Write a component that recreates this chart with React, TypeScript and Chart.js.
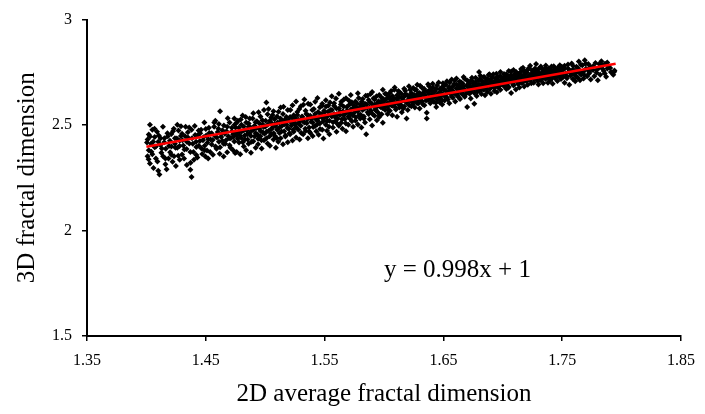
import React, { useEffect, useRef } from "react";
import { Chart, registerables } from "chart.js";
Chart.register(...registerables);

const xTicks = [1.35, 1.45, 1.55, 1.65, 1.75, 1.85];
const yTicks = [1.5, 2, 2.5, 3];
const trendX = [1.4, 1.795];
const trendY = [2.397, 2.791];
const equationText = "y = 0.998x + 1";
const equationAt = [1.6, 1.81];

const seg1 = [[1.401,2.352],[1.401,2.431],[1.402,2.455],[1.402,2.381],[1.403,2.502],[1.403,2.318],[1.404,2.412],[1.405,2.362],[1.405,2.478],[1.406,2.296],[1.407,2.443],[1.407,2.395],[1.408,2.341],[1.409,2.468],[1.410,2.421],[1.410,2.283],[1.411,2.266],[1.412,2.437],[1.413,2.389],[1.414,2.352],[1.415,2.418],[1.416,2.314],[1.416,2.342],[1.417,2.291],[1.418,2.447],[1.419,2.401],[1.420,2.371],[1.421,2.458],[1.421,2.359],[1.422,2.326],[1.423,2.482],[1.424,2.412],[1.424,2.437]];
const seg2 = [[1.426,2.501],[1.426,2.392],[1.427,2.474],[1.428,2.335],[1.428,2.426],[1.429,2.448],[1.430,2.361],[1.430,2.459],[1.431,2.403],[1.432,2.384],[1.433,2.492],[1.434,2.311],[1.434,2.421],[1.435,2.441],[1.436,2.489],[1.437,2.372],[1.437,2.288],[1.438,2.254],[1.438,2.478],[1.439,2.412],[1.440,2.336],[1.441,2.453],[1.442,2.358],[1.442,2.396],[1.443,2.452],[1.444,2.474],[1.445,2.425],[1.446,2.478],[1.447,2.363],[1.448,2.442],[1.449,2.402],[1.449,2.381]];
const seg3 = [[1.450,2.481],[1.451,2.379],[1.452,2.433],[1.452,2.341],[1.453,2.462],[1.454,2.431],[1.455,2.408],[1.456,2.359],[1.457,2.492],[1.458,2.521],[1.458,2.446],[1.459,2.388],[1.460,2.467],[1.461,2.505],[1.461,2.421],[1.462,2.566],[1.462,2.395],[1.463,2.443],[1.464,2.476],[1.465,2.351],[1.465,2.412],[1.466,2.459],[1.467,2.428],[1.468,2.492],[1.468,2.371],[1.469,2.447],[1.470,2.512],[1.470,2.404],[1.471,2.437],[1.472,2.469],[1.473,2.381],[1.473,2.455],[1.474,2.531],[1.474,2.422]];
const seg4 = [[1.475,2.488],[1.476,2.372],[1.476,2.451],[1.477,2.521],[1.478,2.417],[1.478,2.468],[1.479,2.362],[1.480,2.439],[1.480,2.502],[1.481,2.545],[1.482,2.398],[1.482,2.475],[1.483,2.431],[1.484,2.512],[1.484,2.381],[1.485,2.456],[1.486,2.492],[1.486,2.411],[1.487,2.531],[1.488,2.369],[1.488,2.448],[1.489,2.476],[1.490,2.423],[1.490,2.556],[1.491,2.497],[1.492,2.392],[1.492,2.461],[1.493,2.518],[1.494,2.435],[1.494,2.409],[1.495,2.482],[1.496,2.541],[1.496,2.447],[1.497,2.389],[1.498,2.503],[1.498,2.466],[1.499,2.428],[1.499,2.571]];
const seg5 = [[1.500,2.492],[1.501,2.438],[1.501,2.607],[1.502,2.551],[1.502,2.413],[1.503,2.473],[1.504,2.521],[1.504,2.402],[1.505,2.459],[1.505,2.536],[1.506,2.487],[1.507,2.431],[1.507,2.566],[1.508,2.505],[1.508,2.449],[1.509,2.392],[1.510,2.478],[1.510,2.541],[1.511,2.421],[1.512,2.512],[1.512,2.462],[1.513,2.583],[1.513,2.437],[1.514,2.495],[1.515,2.409],[1.515,2.553],[1.516,2.471],[1.517,2.528],[1.517,2.446],[1.518,2.501],[1.519,2.418],[1.519,2.572],[1.520,2.482],[1.521,2.538],[1.521,2.456],[1.522,2.511],[1.523,2.427],[1.523,2.594],[1.524,2.468],[1.524,2.547]];
const seg6 = [[1.525,2.501],[1.526,2.441],[1.526,2.612],[1.527,2.562],[1.528,2.478],[1.528,2.525],[1.529,2.431],[1.530,2.589],[1.530,2.497],[1.531,2.541],[1.532,2.456],[1.532,2.518],[1.533,2.621],[1.534,2.472],[1.534,2.568],[1.535,2.509],[1.536,2.437],[1.536,2.546],[1.537,2.489],[1.538,2.597],[1.538,2.462],[1.539,2.531],[1.540,2.512],[1.540,2.448],[1.541,2.576],[1.542,2.495],[1.542,2.553],[1.543,2.471],[1.544,2.628],[1.544,2.522],[1.545,2.454],[1.546,2.584],[1.546,2.507],[1.547,2.541],[1.548,2.478],[1.548,2.601],[1.549,2.529],[1.549,2.436]];
const seg7 = [[1.550,2.561],[1.551,2.502],[1.551,2.618],[1.552,2.473],[1.552,2.539],[1.553,2.591],[1.554,2.521],[1.554,2.456],[1.555,2.572],[1.556,2.541],[1.556,2.637],[1.557,2.489],[1.558,2.553],[1.558,2.604],[1.559,2.517],[1.560,2.468],[1.560,2.579],[1.561,2.531],[1.562,2.648],[1.562,2.497],[1.563,2.562],[1.564,2.611],[1.564,2.511],[1.565,2.482],[1.566,2.546],[1.566,2.588],[1.567,2.528],[1.568,2.627],[1.568,2.471],[1.569,2.569],[1.570,2.539],[1.570,2.501],[1.571,2.597],[1.572,2.553],[1.572,2.643],[1.573,2.518],[1.574,2.581],[1.574,2.492]];
const seg8 = [[1.575,2.559],[1.576,2.612],[1.576,2.521],[1.577,2.584],[1.578,2.503],[1.578,2.651],[1.579,2.547],[1.580,2.596],[1.580,2.531],[1.581,2.488],[1.582,2.572],[1.582,2.623],[1.583,2.541],[1.584,2.601],[1.584,2.512],[1.585,2.457],[1.586,2.582],[1.586,2.639],[1.587,2.553],[1.588,2.527],[1.588,2.609],[1.589,2.568],[1.590,2.498],[1.590,2.657],[1.591,2.589],[1.592,2.544],[1.592,2.621],[1.593,2.571],[1.594,2.523],[1.594,2.602],[1.595,2.559],[1.596,2.643],[1.596,2.538],[1.597,2.586],[1.598,2.614],[1.598,2.551],[1.599,2.511],[1.599,2.667]];
const seg9 = [[1.600,2.601],[1.601,2.571],[1.601,2.648],[1.602,2.623],[1.603,2.586],[1.603,2.552],[1.604,2.634],[1.605,2.609],[1.605,2.568],[1.606,2.661],[1.607,2.591],[1.607,2.546],[1.608,2.627],[1.609,2.603],[1.609,2.678],[1.610,2.574],[1.611,2.539],[1.611,2.641],[1.612,2.612],[1.613,2.583],[1.613,2.656],[1.614,2.596],[1.615,2.561],[1.615,2.631],[1.616,2.618],[1.617,2.672],[1.617,2.588],[1.618,2.647],[1.619,2.531],[1.619,2.606],[1.620,2.572],[1.621,2.638],[1.621,2.684],[1.622,2.615],[1.623,2.589],[1.623,2.652],[1.624,2.627],[1.624,2.598]];
const seg10 = [[1.625,2.611],[1.626,2.668],[1.626,2.583],[1.627,2.639],[1.628,2.621],[1.628,2.691],[1.629,2.603],[1.630,2.652],[1.630,2.578],[1.631,2.629],[1.632,2.677],[1.632,2.612],[1.633,2.646],[1.634,2.594],[1.634,2.661],[1.635,2.632],[1.636,2.558],[1.636,2.531],[1.637,2.619],[1.638,2.684],[1.638,2.647],[1.639,2.603],[1.640,2.662],[1.640,2.627],[1.641,2.696],[1.642,2.611],[1.642,2.655],[1.643,2.638],[1.644,2.586],[1.644,2.671],[1.645,2.622],[1.646,2.702],[1.646,2.651],[1.647,2.607],[1.648,2.666],[1.648,2.637],[1.649,2.681],[1.649,2.598]];
const seg11 = [[1.650,2.642],[1.651,2.689],[1.651,2.617],[1.652,2.664],[1.653,2.708],[1.653,2.631],[1.654,2.655],[1.655,2.681],[1.655,2.604],[1.656,2.647],[1.657,2.716],[1.657,2.668],[1.658,2.629],[1.659,2.693],[1.659,2.652],[1.660,2.612],[1.661,2.674],[1.661,2.721],[1.662,2.641],[1.663,2.687],[1.663,2.659],[1.664,2.623],[1.665,2.702],[1.665,2.671],[1.666,2.646],[1.667,2.728],[1.667,2.684],[1.668,2.634],[1.669,2.662],[1.670,2.586],[1.670,2.711],[1.671,2.679],[1.672,2.648],[1.672,2.696],[1.673,2.626],[1.674,2.668],[1.674,2.724],[1.675,2.687]];
const seg12 = [[1.676,2.601],[1.676,2.652],[1.677,2.704],[1.678,2.673],[1.678,2.638],[1.679,2.691],[1.680,2.752],[1.680,2.662],[1.681,2.718],[1.682,2.681],[1.682,2.647],[1.683,2.699],[1.684,2.728],[1.684,2.668],[1.685,2.641],[1.686,2.709],[1.686,2.686],[1.687,2.657],[1.688,2.737],[1.688,2.694],[1.689,2.671],[1.690,2.719],[1.690,2.648],[1.691,2.702],[1.692,2.683],[1.692,2.741],[1.693,2.661],[1.694,2.711],[1.694,2.692],[1.695,2.655],[1.696,2.728],[1.696,2.679],[1.697,2.703],[1.698,2.751],[1.698,2.668],[1.699,2.694]];
const seg13 = [[1.700,2.718],[1.701,2.684],[1.701,2.742],[1.702,2.705],[1.703,2.671],[1.703,2.728],[1.704,2.697],[1.705,2.756],[1.705,2.681],[1.706,2.719],[1.707,2.652],[1.707,2.737],[1.708,2.702],[1.709,2.688],[1.709,2.761],[1.710,2.724],[1.711,2.669],[1.711,2.711],[1.712,2.745],[1.713,2.693],[1.713,2.729],[1.714,2.678],[1.715,2.752],[1.715,2.714],[1.716,2.699],[1.717,2.772],[1.717,2.735],[1.718,2.683],[1.719,2.721],[1.719,2.748],[1.720,2.706],[1.721,2.691],[1.721,2.764],[1.722,2.731],[1.723,2.714],[1.723,2.781],[1.724,2.698],[1.724,2.742]];
const seg14 = [[1.725,2.727],[1.726,2.758],[1.726,2.701],[1.727,2.744],[1.728,2.789],[1.728,2.718],[1.729,2.735],[1.730,2.692],[1.730,2.766],[1.731,2.741],[1.732,2.712],[1.732,2.778],[1.733,2.729],[1.734,2.755],[1.734,2.698],[1.735,2.742],[1.736,2.718],[1.736,2.771],[1.737,2.736],[1.738,2.701],[1.738,2.759],[1.739,2.727],[1.740,2.747],[1.740,2.712],[1.741,2.778],[1.742,2.735],[1.742,2.696],[1.743,2.753],[1.744,2.722],[1.744,2.768],[1.745,2.741],[1.746,2.709],[1.746,2.757],[1.747,2.731],[1.748,2.784],[1.749,2.718],[1.749,2.748]];
const seg15 = [[1.750,2.762],[1.751,2.729],[1.752,2.701],[1.752,2.781],[1.753,2.744],[1.754,2.722],[1.755,2.768],[1.756,2.691],[1.756,2.751],[1.757,2.734],[1.758,2.792],[1.759,2.718],[1.759,2.763],[1.760,2.741],[1.761,2.708],[1.762,2.776],[1.762,2.749],[1.763,2.726],[1.764,2.801],[1.765,2.758],[1.765,2.712],[1.766,2.739],[1.767,2.783],[1.768,2.754],[1.768,2.721],[1.769,2.807],[1.770,2.767],[1.771,2.732],[1.772,2.789],[1.773,2.752],[1.774,2.716],[1.774,2.776]];
const seg16 = [[1.776,2.761],[1.777,2.731],[1.778,2.794],[1.779,2.748],[1.780,2.712],[1.781,2.772],[1.782,2.738],[1.783,2.803],[1.784,2.784],[1.785,2.756],[1.786,2.791],[1.787,2.729],[1.788,2.768],[1.789,2.781],[1.791,2.752],[1.792,2.748],[1.793,2.739],[1.794,2.759]];

const extra1 = [[1.4005,2.417],[1.4018,2.338],[1.4031,2.446],[1.4042,2.373],[1.4057,2.421],[1.4068,2.482],[1.4079,2.398],[1.4093,2.327],[1.4104,2.451],[1.4118,2.406],[1.4126,2.369],[1.4139,2.492],[1.4152,2.437],[1.4163,2.388],[1.4177,2.461],[1.4186,2.342],[1.4198,2.426],[1.4211,2.398],[1.4224,2.471],[1.4233,2.352],[1.4245,2.393],[1.4248,2.306]];
const extra2 = [[1.4256,2.436],[1.4268,2.355],[1.4279,2.401],[1.4291,2.494],[1.4303,2.428],[1.4317,2.341],[1.4326,2.447],[1.4338,2.386],[1.4349,2.466],[1.4361,2.413],[1.4372,2.321],[1.4384,2.437],[1.4396,2.372],[1.4407,2.496],[1.4418,2.421],[1.4429,2.346],[1.4441,2.402],[1.4453,2.461],[1.4464,2.389],[1.4476,2.428],[1.4488,2.512],[1.4497,2.351]];
const extra3 = [[1.4503,2.451],[1.4514,2.416],[1.4526,2.487],[1.4537,2.372],[1.4549,2.461],[1.4558,2.429],[1.4571,2.512],[1.4582,2.398],[1.4594,2.441],[1.4606,2.483],[1.4617,2.364],[1.4628,2.457],[1.4639,2.426],[1.4652,2.498],[1.4663,2.411],[1.4674,2.471],[1.4685,2.532],[1.4697,2.438],[1.4708,2.393],[1.4719,2.487],[1.4731,2.443],[1.4742,2.501],[1.4747,2.368]];
const extra4 = [[1.4753,2.461],[1.4761,2.512],[1.4769,2.435],[1.4778,2.487],[1.4786,2.452],[1.4794,2.526],[1.4802,2.469],[1.4811,2.418],[1.4819,2.493],[1.4827,2.451],[1.4836,2.538],[1.4844,2.474],[1.4852,2.431],[1.4861,2.507],[1.4869,2.462],[1.4877,2.489],[1.4886,2.421],[1.4894,2.531],[1.4902,2.478],[1.4911,2.447],[1.4919,2.513],[1.4927,2.486],[1.4936,2.455],[1.4944,2.561],[1.4952,2.507],[1.4961,2.472],[1.4969,2.428],[1.4977,2.523],[1.4986,2.491],[1.4994,2.459]];
const extra5 = [[1.5004,2.521],[1.5012,2.468],[1.5021,2.501],[1.5029,2.576],[1.5037,2.447],[1.5046,2.513],[1.5054,2.482],[1.5062,2.548],[1.5071,2.461],[1.5079,2.527],[1.5087,2.496],[1.5096,2.439],[1.5104,2.512],[1.5112,2.563],[1.5121,2.488],[1.5129,2.531],[1.5137,2.469],[1.5146,2.519],[1.5154,2.587],[1.5162,2.504],[1.5171,2.451],[1.5179,2.538],[1.5187,2.486],[1.5196,2.522],[1.5204,2.461],[1.5212,2.571],[1.5221,2.498],[1.5229,2.534],[1.5237,2.478],[1.5246,2.513]];
const extra6 = [[1.5254,2.531],[1.5262,2.489],[1.5271,2.548],[1.5279,2.507],[1.5287,2.576],[1.5296,2.521],[1.5304,2.462],[1.5312,2.538],[1.5321,2.596],[1.5329,2.512],[1.5337,2.483],[1.5346,2.553],[1.5354,2.527],[1.5362,2.601],[1.5371,2.469],[1.5379,2.544],[1.5387,2.516],[1.5396,2.571],[1.5404,2.491],[1.5412,2.537],[1.5421,2.611],[1.5429,2.526],[1.5437,2.503],[1.5446,2.562],[1.5454,2.538],[1.5462,2.481],[1.5471,2.553],[1.5479,2.591],[1.5487,2.517],[1.5496,2.568]];
const extra7 = [[1.5504,2.541],[1.5512,2.588],[1.5521,2.519],[1.5529,2.563],[1.5537,2.492],[1.5546,2.607],[1.5554,2.546],[1.5562,2.571],[1.5571,2.513],[1.5579,2.592],[1.5587,2.538],[1.5596,2.626],[1.5604,2.551],[1.5612,2.504],[1.5621,2.579],[1.5629,2.548],[1.5637,2.598],[1.5646,2.527],[1.5654,2.566],[1.5662,2.621],[1.5671,2.553],[1.5679,2.508],[1.5687,2.586],[1.5696,2.561],[1.5704,2.617],[1.5712,2.531],[1.5721,2.574],[1.5729,2.608],[1.5737,2.547],[1.5746,2.593]];
const extra8 = [[1.5754,2.576],[1.5762,2.537],[1.5771,2.603],[1.5779,2.564],[1.5787,2.628],[1.5796,2.581],[1.5804,2.549],[1.5812,2.611],[1.5821,2.592],[1.5829,2.531],[1.5837,2.578],[1.5846,2.639],[1.5854,2.597],[1.5862,2.561],[1.5871,2.619],[1.5879,2.583],[1.5887,2.647],[1.5896,2.602],[1.5904,2.552],[1.5912,2.627],[1.5921,2.596],[1.5929,2.571],[1.5937,2.637],[1.5946,2.589],[1.5954,2.613],[1.5962,2.548],[1.5971,2.606],[1.5979,2.631],[1.5987,2.581],[1.5996,2.622]];
const extra9 = [[1.6004,2.617],[1.6012,2.589],[1.6021,2.646],[1.6029,2.602],[1.6037,2.571],[1.6046,2.651],[1.6054,2.621],[1.6062,2.594],[1.6071,2.638],[1.6079,2.613],[1.6087,2.667],[1.6096,2.583],[1.6104,2.626],[1.6112,2.604],[1.6121,2.661],[1.6129,2.632],[1.6137,2.591],[1.6146,2.648],[1.6154,2.617],[1.6162,2.578],[1.6171,2.636],[1.6179,2.663],[1.6187,2.609],[1.6196,2.641],[1.6204,2.621],[1.6212,2.594],[1.6221,2.667],[1.6229,2.638],[1.6237,2.612],[1.6246,2.676]];
const extra10 = [[1.6254,2.642],[1.6262,2.621],[1.6271,2.667],[1.6279,2.604],[1.6287,2.651],[1.6296,2.634],[1.6304,2.686],[1.6312,2.618],[1.6321,2.647],[1.6329,2.598],[1.6337,2.672],[1.6346,2.641],[1.6354,2.616],[1.6362,2.659],[1.6371,2.693],[1.6379,2.631],[1.6387,2.668],[1.6396,2.619],[1.6404,2.647],[1.6412,2.678],[1.6421,2.632],[1.6429,2.661],[1.6437,2.606],[1.6446,2.688],[1.6454,2.646],[1.6462,2.627],[1.6471,2.672],[1.6479,2.653],[1.6487,2.619],[1.6496,2.698]];
const extra11 = [[1.6504,2.667],[1.6512,2.638],[1.6521,2.691],[1.6529,2.652],[1.6537,2.621],[1.6546,2.676],[1.6554,2.702],[1.6562,2.661],[1.6571,2.634],[1.6579,2.683],[1.6587,2.657],[1.6596,2.711],[1.6604,2.646],[1.6612,2.692],[1.6621,2.668],[1.6629,2.631],[1.6637,2.706],[1.6646,2.681],[1.6654,2.653],[1.6662,2.697],[1.6671,2.672],[1.6679,2.719],[1.6687,2.646],[1.6696,2.688],[1.6704,2.661],[1.6712,2.706],[1.6721,2.684],[1.6729,2.658],[1.6737,2.712],[1.6746,2.679]];
const extra12 = [[1.6754,2.698],[1.6762,2.671],[1.6771,2.724],[1.6779,2.687],[1.6787,2.659],[1.6796,2.712],[1.6804,2.691],[1.6812,2.734],[1.6821,2.668],[1.6829,2.706],[1.6837,2.684],[1.6846,2.727],[1.6854,2.699],[1.6862,2.673],[1.6871,2.718],[1.6879,2.692],[1.6887,2.741],[1.6896,2.709],[1.6904,2.681],[1.6912,2.728],[1.6921,2.702],[1.6929,2.676],[1.6937,2.721],[1.6946,2.743],[1.6954,2.697],[1.6962,2.714],[1.6971,2.686],[1.6979,2.733],[1.6987,2.709],[1.6996,2.721]];
const extra13 = [[1.7004,2.701],[1.7012,2.728],[1.7021,2.689],[1.7029,2.741],[1.7037,2.716],[1.7046,2.677],[1.7054,2.732],[1.7062,2.709],[1.7071,2.754],[1.7079,2.722],[1.7087,2.693],[1.7096,2.738],[1.7104,2.712],[1.7112,2.751],[1.7121,2.727],[1.7129,2.699],[1.7137,2.743],[1.7146,2.719],[1.7154,2.766],[1.7162,2.731],[1.7171,2.704],[1.7179,2.757],[1.7187,2.738],[1.7196,2.712],[1.7204,2.749],[1.7212,2.727],[1.7221,2.771],[1.7229,2.736],[1.7237,2.718],[1.7246,2.759]];
const extra14 = [[1.7254,2.741],[1.7262,2.719],[1.7271,2.768],[1.7279,2.732],[1.7287,2.753],[1.7296,2.708],[1.7304,2.749],[1.7312,2.727],[1.7321,2.771],[1.7329,2.746],[1.7337,2.723],[1.7346,2.761],[1.7354,2.738],[1.7362,2.782],[1.7371,2.752],[1.7379,2.726],[1.7387,2.768],[1.7396,2.744],[1.7404,2.761],[1.7412,2.721],[1.7421,2.756],[1.7429,2.779],[1.7437,2.738],[1.7446,2.759],[1.7454,2.731],[1.7462,2.772],[1.7471,2.749],[1.7479,2.764],[1.7487,2.734],[1.7496,2.776]];
const extra15 = [[1.7506,2.747],[1.7521,2.768],[1.7537,2.731],[1.7549,2.787],[1.7562,2.759],[1.7579,2.742],[1.7591,2.781],[1.7604,2.756],[1.7618,2.729],[1.7631,2.771],[1.7644,2.748],[1.7658,2.786],[1.7671,2.752],[1.7684,2.739],[1.7697,2.791],[1.7712,2.763],[1.7726,2.744],[1.7738,2.771]];
const extra16 = [[1.7761,2.779],[1.7789,2.761],[1.7812,2.789],[1.7837,2.768],[1.7858,2.744],[1.7879,2.797],[1.7904,2.771],[1.7938,2.753]];

const FONT = "'Liberation Serif', 'Times New Roman', serif";

export default function App() {
  const ref = useRef<HTMLCanvasElement>(null);
  useEffect(() => {
    document.body.style.margin = "0";
    const all = [
      ...seg1, ...seg2, ...seg3, ...seg4, ...seg5, ...seg6, ...seg7, ...seg8,
      ...seg9, ...seg10, ...seg11, ...seg12, ...seg13, ...seg14, ...seg15, ...seg16,
      ...extra1, ...extra2, ...extra3, ...extra4, ...extra5, ...extra6, ...extra7, ...extra8,
      ...extra9, ...extra10, ...extra11, ...extra12, ...extra13, ...extra14, ...extra15, ...extra16,
    ];
    const pts = all.map(([x, y]) => ({ x, y }));
    const trend = trendX.map((x, i) => ({ x, y: trendY[i] }));
    const eqPlugin = {
      id: "eqText",
      afterDatasetsDraw(chart: any) {
        const { ctx, scales } = chart;
        ctx.save();
        ctx.font = `25px ${FONT}`;
        ctx.fillStyle = "#000";
        ctx.textBaseline = "middle";
        ctx.textAlign = "left";
        ctx.fillText(equationText, scales.x.getPixelForValue(equationAt[0]), scales.y.getPixelForValue(equationAt[1]));
        ctx.restore();
      },
    };
    const tickFont = { family: FONT, size: 16 };
    const titleFont = { family: FONT, size: 25 };
    const chart = new Chart(ref.current as HTMLCanvasElement, {
      type: "scatter",
      data: {
        datasets: [
          { type: "line", data: trend, borderColor: "#FF0000", borderWidth: 2.5, pointRadius: 0, fill: false } as any,
          { data: pts, pointStyle: "rectRot", pointRadius: 3, pointBackgroundColor: "#000", pointBorderWidth: 0, showLine: false } as any,
        ],
      },
      options: {
        responsive: false,
        animation: false,
        layout: { padding: { top: 17, right: 19, left: 0, bottom: 0 } },
        plugins: { legend: { display: false }, tooltip: { enabled: false } },
        scales: {
          x: {
            type: "linear",
            min: xTicks[0],
            max: xTicks[xTicks.length - 1],
            afterBuildTicks: (s: any) => { s.ticks = xTicks.map((v) => ({ value: v })); },
            afterFit: (s: any) => { s.height = 78; },
            ticks: { font: tickFont, color: "#000", padding: 10, maxRotation: 0, autoSkip: false, callback: (v: any) => String(v) },
            grid: { drawOnChartArea: false, drawTicks: true, tickLength: 5, color: "#000", lineWidth: 1.5 },
            border: { display: true, color: "#000", width: 2 },
            title: { display: true, text: "2D average fractal dimension", font: titleFont, color: "#000", padding: { top: 0, bottom: 5 } },
          },
          y: {
            type: "linear",
            min: yTicks[0],
            max: yTicks[yTicks.length - 1],
            afterBuildTicks: (s: any) => { s.ticks = yTicks.map((v) => ({ value: v })); },
            afterFit: (s: any) => { s.width = 87; },
            ticks: { font: tickFont, color: "#000", padding: 10, autoSkip: false, callback: (v: any) => String(v) },
            grid: { drawOnChartArea: false, drawTicks: true, tickLength: 5, color: "#000", lineWidth: 1.5 },
            border: { display: true, color: "#000", width: 2 },
            title: { display: true, text: "3D fractal dimension", font: titleFont, color: "#000", padding: { top: 12, bottom: 0 } },
          },
        },
      } as any,
      plugins: [eqPlugin],
    });
    return () => chart.destroy();
  }, []);
  return (
    <div style={{ position: "absolute", left: 0, top: 0, width: 705, height: 414 }}>
      <canvas ref={ref} width={705} height={414} style={{ display: "block", width: 705, height: 414 }} />
    </div>
  );
}
